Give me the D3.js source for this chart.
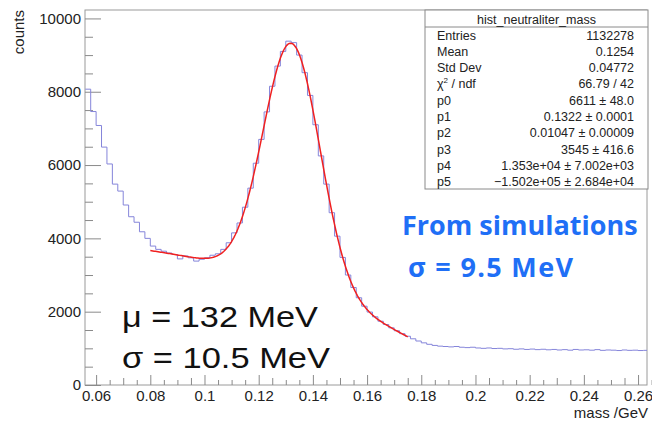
<!DOCTYPE html>
<html lang="en">
<head>
<meta charset="UTF-8">
<title>hist_neutraliter_mass</title>
<script src="https://d3js.org/d3.v7.min.js"></script>
<style>
    body { margin: 0; background: #fff; }
    svg { display: block; font-family: 'Liberation Sans', Arial, sans-serif; }
    .axis text { font-size: 15px; fill: #222; }
    .axis line { stroke: #8a8a8a; }
    .stat { font-size: 12.5px; fill: #222; }
    .note { font-size: 29px; fill: #111; }
    .sim { font-family: 'Open Sans', Lato, sans-serif; font-weight: bold; font-size: 27px; fill: #1f6ff6; }
</style>
</head>
<body>
<svg width="652" height="421"></svg>
<script>
// histogram binning (GeV)
const binStart = 0.056;
const binWidth = 0.002;
// counts per bin
const counts = [
    8070, 7460, 7080, 6490, 6030, 5480, 5290, 4910, 4590, 4440, 4180, 4000,
    3790, 3700, 3650, 3600, 3560, 3440, 3520, 3470, 3380, 3430, 3470, 3540,
    3580, 3700, 3880, 4150, 4420, 4850, 5370, 6050, 6700, 7450, 8150, 8700,
    9100, 9380, 9340, 9000, 8520, 7900, 7100, 6250, 5480, 4700, 4060, 3480,
    3000, 2660, 2380, 2150, 1990, 1860, 1740, 1650, 1560, 1480, 1400, 1330,
    1260, 1200, 1150, 1110, 1080, 1060, 1050, 1040, 1050, 1030, 1020, 1030,
    1010, 1000, 1010, 995, 1000, 985, 990, 975, 985, 970, 980, 965,
    975, 960, 970, 955, 965, 950, 970, 955, 960, 950, 965, 945,
    955, 950, 940, 955, 945, 950, 940, 945
];

// fit: gaus(p0,p1,p2) + pol2(p3,p4,p5)
const fitParams = [6611, 0.1322, 0.01047, 3545, 1.353e4, -1.502e5];
const fitRange = [0.08, 0.175];

const xTicks = [0.06, 0.08, 0.1, 0.12, 0.14, 0.16, 0.18, 0.2, 0.22, 0.24, 0.26];
const yTicks = [0, 2000, 4000, 6000, 8000, 10000];

const statLabels = ["Entries", "Mean", "Std Dev", "chi2", "p0", "p1", "p2", "p3", "p4", "p5"];
const statValues = ["1132278", "0.1254", "0.04772", "66.79 / 42",
    "6611 \u00b1 48.0", "0.1322 \u00b1 0.0001", "0.01047 \u00b1 0.00009",
    "3545 \u00b1 416.6", "1.353e+04 \u00b1 7.002e+03", "\u22121.502e+05 \u00b1 2.684e+04"];

const svg = d3.select("svg");
const frame = {left: 85, right: 647, top: 10, bottom: 385};

const x = d3.scaleLinear().domain([0.0559, 0.2633]).range([frame.left, frame.right]);
const y = d3.scaleLinear().domain([0, 10230]).range([frame.bottom, frame.top]);

svg.append("defs").append("clipPath").attr("id", "clip")
    .append("rect")
    .attr("x", frame.left).attr("y", frame.top)
    .attr("width", frame.right - frame.left)
    .attr("height", frame.bottom - frame.top);

// frame
svg.append("rect")
    .attr("x", frame.left).attr("y", frame.top)
    .attr("width", frame.right - frame.left)
    .attr("height", frame.bottom - frame.top)
    .attr("fill", "none")
    .attr("stroke", "#9a9a9a")
    .attr("stroke-width", 1);

// y axis
const yMinor = d3.range(0, 10001, 500).filter(v => v % 2000 !== 0);
svg.append("g").attr("class", "axis")
    .attr("transform", `translate(${frame.left},0)`)
    .call(d3.axisLeft(y).tickValues(yMinor).tickSize(-8).tickFormat(""))
    .call(g => g.select(".domain").remove());
svg.append("g").attr("class", "axis")
    .attr("transform", `translate(${frame.left},0)`)
    .call(d3.axisLeft(y).tickValues(yTicks).tickSize(-16).tickPadding(4).tickFormat(d3.format("d")))
    .call(g => g.select(".domain").remove());

// x axis
const xSmall = d3.range(0, 42).map(i => 0.06 + i * 0.005).filter((v, i) => i % 4 !== 0);
svg.append("g").attr("class", "axis")
    .attr("transform", `translate(0,${frame.bottom})`)
    .call(d3.axisBottom(x).tickValues(xSmall).tickSize(-5).tickFormat(""))
    .call(g => g.selectAll(".tick line").attr("y2", (d, i) => (i % 4 === 1 ? -7 : -5)))
    .call(g => g.select(".domain").remove());
svg.append("g").attr("class", "axis")
    .attr("transform", `translate(0,${frame.bottom})`)
    .call(d3.axisBottom(x).tickValues(xTicks).tickSize(-10).tickPadding(5).tickFormat(d => String(+d.toFixed(2))))
    .call(g => g.select(".domain").remove());

// axis titles
svg.append("text")
    .attr("transform", `translate(24,${frame.top}) rotate(-90)`)
    .attr("text-anchor", "end")
    .attr("font-size", 15)
    .attr("fill", "#222")
    .text("counts");
svg.append("text")
    .attr("x", 648).attr("y", 418)
    .attr("text-anchor", "end")
    .attr("font-size", 15)
    .attr("fill", "#222")
    .text("mass /GeV");

// histogram
const steps = counts.map((c, i) => [binStart + i * binWidth, c]);
steps.push([binStart + counts.length * binWidth, counts[counts.length - 1]]);
const histLine = d3.line()
    .x(d => x(d[0]))
    .y(d => y(d[1]))
    .curve(d3.curveStepAfter);
svg.append("path")
    .attr("clip-path", "url(#clip)")
    .attr("d", histLine(steps))
    .attr("fill", "none")
    .attr("stroke", "#8585da")
    .attr("stroke-width", 1);

// fit curve
function fitFn(v) {
    const [p0, p1, p2, p3, p4, p5] = fitParams;
    const t = (v - p1) / p2;
    return p0 * Math.exp(-0.5 * t * t) + p3 + p4 * v + p5 * v * v;
}
const fitPts = d3.range(0, 201).map(i => fitRange[0] + (fitRange[1] - fitRange[0]) * i / 200);
svg.append("path")
    .attr("d", d3.line().x(v => x(v)).y(v => y(fitFn(v)))(fitPts))
    .attr("fill", "none")
    .attr("stroke", "#f02020")
    .attr("stroke-width", 1.5);

// stats box
const box = {x: 425, y: 10, w: 223, h: 179};
const stats = svg.append("g");
stats.append("rect")
    .attr("x", box.x).attr("y", box.y)
    .attr("width", box.w).attr("height", box.h)
    .attr("fill", "#fff")
    .attr("stroke", "#8a8a8a");
stats.append("line")
    .attr("x1", box.x).attr("x2", box.x + box.w)
    .attr("y1", box.y + 17).attr("y2", box.y + 17)
    .attr("stroke", "#8a8a8a");
stats.append("text")
    .attr("class", "stat")
    .attr("x", box.x + box.w / 2).attr("y", box.y + 13.5)
    .attr("text-anchor", "middle")
    .attr("font-size", 15)
    .text("hist_neutraliter_mass");
statLabels.forEach((lab, i) => {
    const yy = box.y + 29.5 + i * 16.3;
    const t = stats.append("text").attr("class", "stat").attr("x", box.x + 12).attr("y", yy);
    if (lab === "chi2") {
        t.append("tspan").text("\u03c7");
        t.append("tspan").attr("font-size", 8).attr("dy", -5).text("2");
        t.append("tspan").attr("dy", 5).text(" / ndf");
    } else {
        t.text(lab);
    }
    stats.append("text").attr("class", "stat")
        .attr("x", box.x + box.w - 14).attr("y", yy)
        .attr("text-anchor", "end")
        .text(statValues[i]);
});

// annotations
svg.append("text").attr("class", "note").attr("x", 122).attr("y", 327)
    .attr("textLength", 196).attr("lengthAdjust", "spacingAndGlyphs").text("\u03bc = 132 MeV");
svg.append("text").attr("class", "note").attr("x", 122).attr("y", 368)
    .attr("textLength", 208).attr("lengthAdjust", "spacingAndGlyphs").text("\u03c3 = 10.5 MeV");
svg.append("text").attr("class", "sim").attr("x", 402).attr("y", 235).text("From simulations");
svg.append("text").attr("class", "sim").attr("x", 408).attr("y", 277)
    .attr("textLength", 165).attr("lengthAdjust", "spacing").text("\u03c3 = 9.5 MeV");
</script>
</body>
</html>
